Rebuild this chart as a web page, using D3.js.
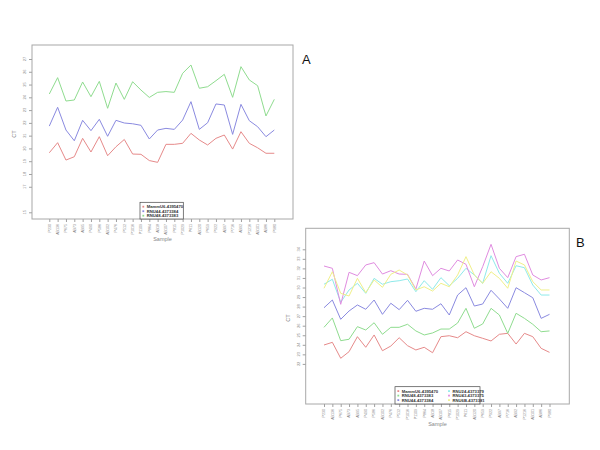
<!DOCTYPE html>
<html><head><meta charset="utf-8">
<script src="https://cdn.jsdelivr.net/npm/d3@7"></script>
<style>body{margin:0;background:#fff}svg{display:block}</style>
</head><body>
<svg id="c" width="600" height="450"></svg>
<script>
// ---------- Panel A data ----------
const samplesA = ["P230","AB136","P675","AB73","AB95","P490","P586","AB102","P476","P512","P1016","P1109","P864","AB18","AB107","P815","P1029","P611","AB120","P659","P922","AB97","P716","AB92","P1216","AB101","AB86","P980"];
const seriesNamesA = ["MammU6-4395470","RNU44-4373384","RNU48-4373383"];
const mammU6A = [19.66,20.45,19.09,19.35,20.79,19.72,20.92,19.43,20.13,20.7,19.56,19.54,19.05,18.91,20.32,20.32,20.4,21.18,20.66,20.27,20.79,21.05,19.95,21.31,20.4,20.05,19.62,19.62];
const rnu44A = [21.75,23.22,21.44,20.6,22.2,21.39,22.28,20.95,22.2,21.99,21.93,21.81,20.74,21.44,21.57,21.49,22.22,23.66,21.49,22.01,23.48,23.4,21.1,23.45,22.17,21.7,20.92,21.44];
const rnu48A = [24.26,25.54,23.71,23.79,25.2,24.05,25.25,23.14,25.12,23.84,25.22,24.57,23.99,24.39,24.45,24.39,25.88,26.53,24.71,24.83,25.3,25.8,24.0,26.4,25.36,24.91,22.54,23.84];
const yTicksA = [27,26,25,24,23,22,21,20,19,18,17,15];

// ---------- Panel B data ----------
const samplesB = ["P230","AB136","P675","AB73","AB95","P490","P586","AB102","P476","P512","P1016","P1109","P864","AB18","AB107","P815","P1029","P611","AB120","P659","P922","AB97","P716","AB92","P1216","AB101","AB86","P980"];
const seriesNamesB = ["MammU6-4395470","RNU48-4373383","RNU44-4373384","RNU24-4373379","RNU43-4373375","RNU6B-4373381"];
const mammU6B = [23.98,24.26,22.59,23.28,24.85,23.74,25.03,23.38,23.87,24.74,23.91,23.46,23.74,23.17,24.85,24.95,24.74,25.37,24.95,24.68,24.4,25.1,25.2,24.08,25.2,24.85,23.63,23.21];
const rnu48B = [25.83,26.81,24.43,24.58,25.9,25.55,26.31,25.1,25.83,25.83,26.15,25.45,25.03,25.24,25.65,25.65,26.28,27.82,25.73,26.18,27.82,27.12,25.2,27.3,26.77,26.15,25.37,25.45];
const rnu44B = [27.88,28.69,26.67,27.54,28.17,27.72,28.69,27.19,28.35,27.68,28.66,27.51,27.82,27.72,28.3,27.12,29.21,29.98,28.06,28.27,29.71,28.8,27.82,29.98,29.46,28.93,26.77,27.19];
const rnu24B = [30.34,30.86,28.45,29.74,30.44,29.39,30.96,30.34,30.61,30.71,30.89,29.56,30.71,29.81,31.03,30.19,30.96,32.01,31.31,30.44,33.33,31.49,30.44,32.28,32.07,30.26,29.21,29.21];
const rnu43B = [32.25,32.01,28.24,31.59,31.24,32.36,32.6,31.41,31.76,31.41,31.38,29.84,32.77,31.24,32.01,31.73,32.88,32.43,30.08,32.18,34.52,32.01,31.03,33.23,33.48,31.31,30.79,31.03];
const rnu6bB = [29.92,31.65,29.39,29.11,30.96,29.46,30.79,30.02,31.38,31.83,31.31,29.74,30.08,29.63,30.44,30.08,31.31,33.23,31.31,30.44,31.65,30.96,29.92,32.77,32.36,30.61,29.74,29.74];
const yTicksB = [34,33,32,31,30,29,28,27,26,25,24,23,22];

const cRed = "#e68a8a", cBlue = "#8a8ae0", cGreen = "#8fdc8f", cCyan = "#8eeaea", cMag = "#e08ce0", cYel = "#f0f08a";

const svg = d3.select("#c");

function panel(o) {
  const g = svg.append("g");
  const x = d3.scaleLinear().domain([0, o.samples.length - 1]).range([o.x0, o.x1]);
  const y = d3.scaleLinear().domain(o.yDom).range(o.yRange);
  // box
  g.append("rect").attr("x", o.box[0]).attr("y", o.box[1])
    .attr("width", o.box[2] - o.box[0]).attr("height", o.box[3] - o.box[1])
    .attr("fill", "none").attr("stroke", "#a8a8a8").attr("stroke-width", 1);
  // lines
  const line = d3.line().x((d, i) => x(i)).y(d => y(d));
  o.series.forEach(s => {
    g.append("path").datum(s.values).attr("d", line)
      .attr("fill", "none").attr("stroke", s.color).attr("stroke-width", 1);
  });
  // y axis
  const ya = g.append("g").attr("transform", `translate(${o.box[0]},0)`)
    .call(d3.axisLeft(y).tickValues(o.yTicks).tickSize(3).tickFormat(""));
  ya.select(".domain").remove();
  ya.selectAll("line").attr("stroke", "#a0a0a0");
  o.yTicks.forEach(t => {
    g.append("text").attr("transform", `translate(${o.box[0] - 6},${y(t)}) rotate(-90)`)
      .attr("text-anchor", "middle").attr("font-size", 4).attr("fill", "#888")
      .attr("font-family", "Liberation Sans, Arial, sans-serif").text(t);
  });
  // x axis
  const xa = g.append("g").attr("transform", `translate(0,${o.box[3]})`)
    .call(d3.axisBottom(x).tickValues(d3.range(o.samples.length)).tickSize(3).tickFormat(""));
  xa.select(".domain").remove();
  xa.selectAll("line").attr("stroke", "#a0a0a0");
  o.samples.forEach((s, i) => {
    g.append("text").attr("transform", `translate(${x(i) + 1.3},${o.box[3] + 5}) rotate(-90)`)
      .attr("text-anchor", "end").attr("font-size", 3.6).attr("fill", "#888")
      .attr("font-family", "Liberation Sans, Arial, sans-serif").text(s);
  });
  // axis titles
  g.append("text").attr("x", (o.box[0] + o.box[2]) / 2).attr("y", o.box[3] + 21.5)
    .attr("text-anchor", "middle").attr("font-size", 5.5).attr("fill", "#888")
    .attr("font-family", "Liberation Sans, Arial, sans-serif").text("Sample");
  g.append("text").attr("transform", `translate(${o.box[0] - 16},${(o.box[1] + o.box[3]) / 2 + 2}) rotate(-90)`)
    .attr("text-anchor", "middle").attr("font-size", 5.5).attr("fill", "#888")
    .attr("font-family", "Liberation Sans, Arial, sans-serif").text("CT");
  // legend
  const L = o.legend;
  g.append("rect").attr("x", L.x).attr("y", L.y).attr("width", L.w).attr("height", L.h)
    .attr("fill", "#fff").attr("stroke", "#444").attr("stroke-width", 0.7);
  o.series.forEach((s, i) => {
    const col = Math.floor(i / 3), row = i % 3;
    const lx = L.x + 3.3 + col * L.colW, ly = L.y + 4.4 + row * 4.5;
    g.append("rect").attr("x", lx - 0.9).attr("y", ly - 0.9).attr("width", 1.8).attr("height", 1.8).attr("fill", s.color);
    g.append("text").attr("x", lx + 3.5).attr("y", ly + 1.5).attr("font-size", 4.2)
      .attr("font-weight", "bold").attr("fill", "#333")
      .attr("font-family", "Liberation Sans, Arial, sans-serif").text(s.name);
  });
  // panel letter
  g.append("text").attr("x", o.letter[0]).attr("y", o.letter[1]).attr("font-size", 13)
    .attr("fill", "#111").attr("font-family", "Liberation Sans, Arial, sans-serif").text(o.letter[2]);
}

panel({
  samples: samplesA, x0: 49.3, x1: 274.3,
  yDom: [15, 27], yRange: [212.3, 59], yTicks: yTicksA,
  box: [32, 45, 293, 219],
  series: [
    {name: seriesNamesA[0], values: mammU6A, color: cRed},
    {name: seriesNamesA[1], values: rnu44A, color: cBlue},
    {name: seriesNamesA[2], values: rnu48A, color: cGreen}
  ],
  legend: {x: 140, y: 202.3, w: 43.3, h: 16.7, colW: 0},
  letter: [302, 64, "A"]
});

panel({
  samples: samplesB, x0: 324, x1: 549.5,
  yDom: [22, 34], yRange: [363.9, 249.3], yTicks: yTicksB,
  box: [305.7, 228.3, 569.3, 404],
  series: [
    {name: seriesNamesB[0], values: mammU6B, color: cRed},
    {name: seriesNamesB[1], values: rnu48B, color: cGreen},
    {name: seriesNamesB[2], values: rnu44B, color: cBlue},
    {name: seriesNamesB[3], values: rnu24B, color: cCyan},
    {name: seriesNamesB[4], values: rnu43B, color: cMag},
    {name: seriesNamesB[5], values: rnu6bB, color: cYel}
  ],
  legend: {x: 395, y: 386.7, w: 85, h: 17.3, colW: 50.7},
  letter: [576, 247, "B"]
});
</script>
</body></html>
